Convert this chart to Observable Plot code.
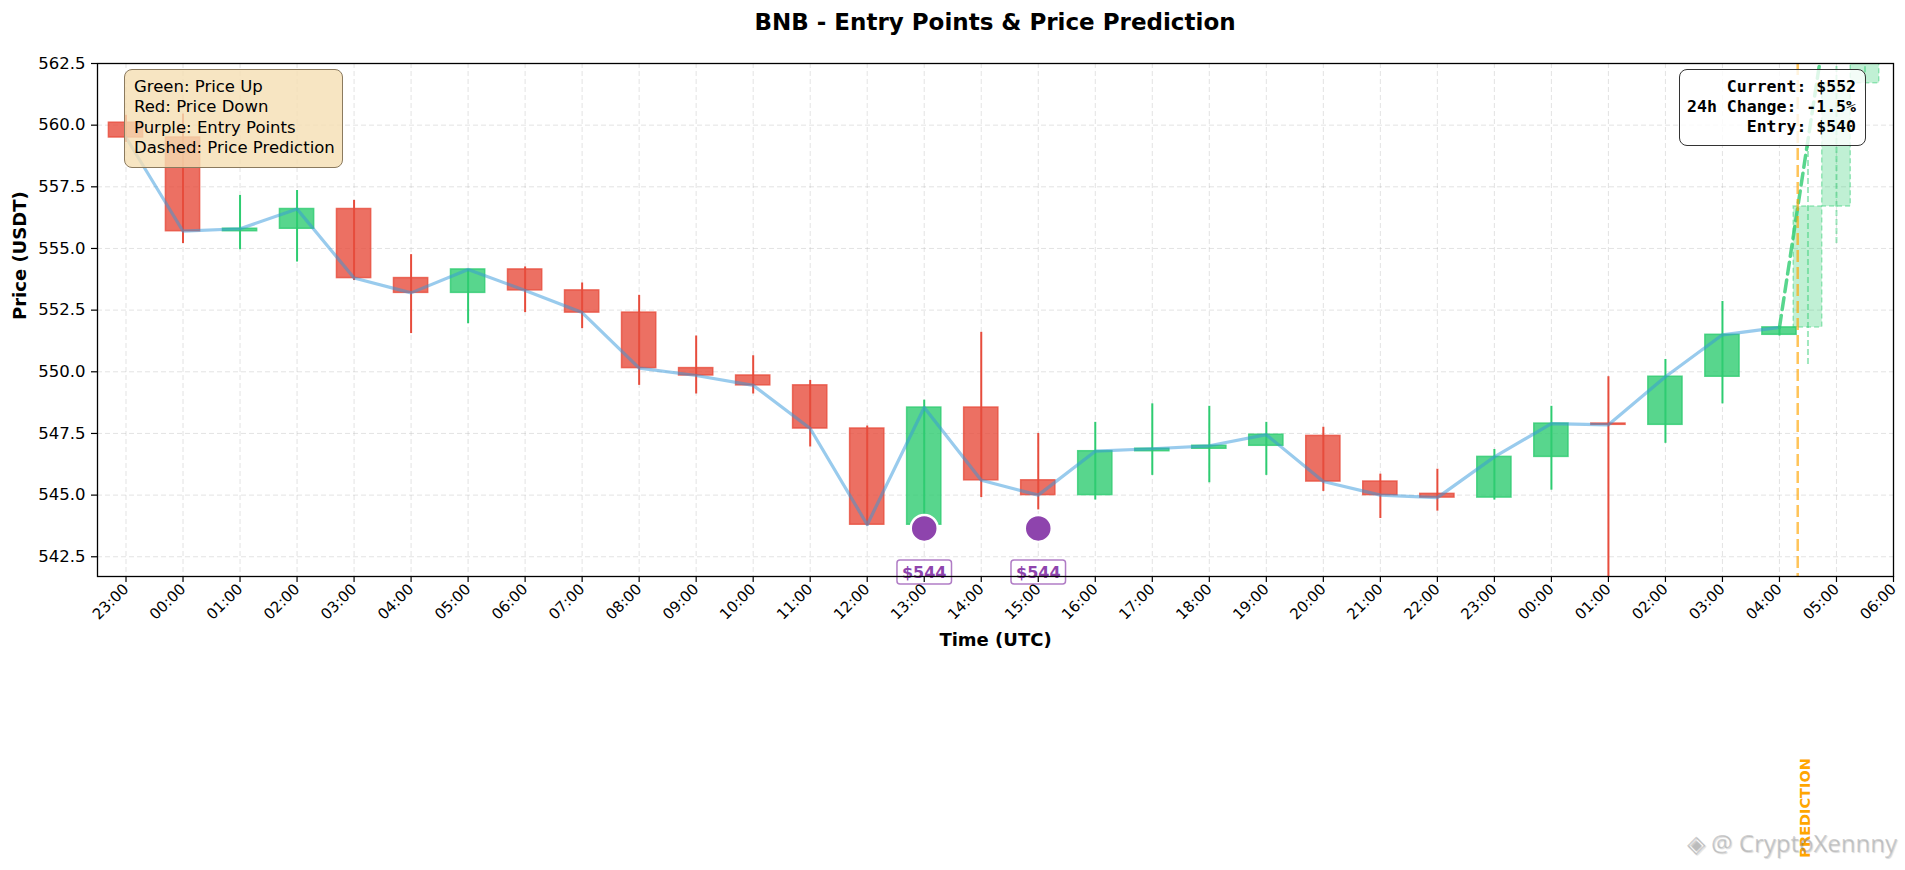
<!DOCTYPE html>
<html>
<head>
<meta charset="utf-8">
<script src="https://cdn.jsdelivr.net/npm/d3@7"></script>
<script src="https://cdn.jsdelivr.net/npm/@observablehq/plot@0.6"></script>
<style>
  body { margin: 0; background: #fff; }
  #wrap { position: relative; width: 1905px; height: 870px; overflow: hidden; font-family: "DejaVu Sans", sans-serif; background: #fff; }
  #title { position: absolute; left: 97px; width: 1796px; top: 8px; height: 30px; text-align: center; font-weight: bold; font-size: 23px; line-height: 28px; color: #000; }
  #chart { position: absolute; left: 0; top: 45px; }
  #legendBox { position: absolute; left: 124px; top: 69px; width: 219px; box-sizing: border-box; padding: 7px 0 9px 9px;
    background: rgba(245,222,179,0.8); border: 1.5px solid #8b7a5e; border-radius: 8px; font-size: 16.5px; line-height: 20.3px; color: #000; white-space: nowrap; }
  #statsBox { position: absolute; left: 1679px; top: 69px; width: 187px; box-sizing: border-box; padding: 7px 9px 7px 0;
    background: rgba(255,255,255,0.8); border: 1.5px solid #333; border-radius: 8px; font-family: "DejaVu Sans Mono", monospace; font-weight: bold;
    font-size: 16.5px; line-height: 20.2px; text-align: right; color: #000; white-space: pre; }
  #watermark { position: absolute; right: 8px; top: 826px; font-family: "Open Sans", sans-serif; font-size: 24px; color: rgba(150,150,150,0.45);
    text-shadow: 1px 1px 1px rgba(0,0,0,0.15); white-space: nowrap; }
</style>
</head>
<body>
<div id="wrap">
  <div id="title"></div>
  <div id="chart"></div>
  <div id="legendBox"></div>
  <div id="statsBox"></div>
  <div id="watermark"></div>
</div>
<script>
// ---------------- data ----------------
const chartTitle = "BNB - Entry Points & Price Prediction";
const xLabel = "Time (UTC)";
const yLabel = "Price (USDT)";

const candleTimes = ["23:00","00:00","01:00","02:00","03:00","04:00","05:00","06:00","07:00","08:00",
  "09:00","10:00","11:00","12:00","13:00","14:00","15:00","16:00","17:00","18:00",
  "19:00","20:00","21:00","22:00","23:00","00:00","01:00","02:00","03:00","04:00"];
const opens  = [560.1, 559.5, 555.7, 555.8, 556.6, 553.8, 553.2, 554.15, 553.3, 552.4,
  550.15, 549.85, 549.45, 547.7, 543.8, 548.55, 545.6, 545.0, 546.78, 546.88,
  547.0, 547.4, 545.55, 545.05, 544.9, 546.55, 547.9, 547.85, 549.8, 551.5];
const highs  = [560.4, 560.45, 557.15, 557.35, 556.95, 554.75, 554.15, 554.25, 553.6, 553.1,
  551.45, 550.65, 549.65, 547.8, 548.85, 551.6, 547.5, 547.95, 548.7, 548.6,
  547.95, 547.75, 545.85, 546.05, 546.85, 548.6, 549.8, 550.5, 552.85, 551.85];
const lows   = [559.3, 555.2, 554.95, 554.45, 553.7, 551.55, 551.95, 552.4, 551.75, 549.45,
  549.1, 549.1, 546.95, 543.75, 543.75, 544.9, 544.4, 544.8, 545.8, 545.5,
  545.8, 545.15, 544.05, 544.35, 544.8, 545.2, 541.7, 547.1, 548.7, 551.45];
const closes = [559.5, 555.7, 555.8, 556.6, 553.8, 553.2, 554.15, 553.3, 552.4, 550.15,
  549.85, 549.45, 547.7, 543.8, 548.55, 545.6, 545.0, 546.78, 546.88, 547.0,
  547.45, 545.55, 545.0, 544.9, 546.55, 547.9, 547.85, 549.8, 551.5, 551.8];

// predicted candles (hours after the last real candle)
const predOffsets = [0.5, 1.0, 1.5];
const predOpens   = [551.8, 556.7, 561.7];
const predCloses  = [556.7, 561.7, 566.0];
const predHighs   = [559.3, 563.5, 567.5];
const predLows    = [550.3, 555.2, 561.4];
// dashed prediction line
const predLineOffsets = [0, 0.5, 1.0];
const predLineValues  = [551.8, 559.4, 567.0];
const nowOffset = 0.32;            // current time, hours after last candle
const predictionText = "PREDICTION";
const predictionTextPrice = 530.3;

// entry points
const entryTimes  = ["13:00", "15:00"];
const entryPrices = [543.65, 543.65];
const entryTarget = 540;

const xTickLabels = ["23:00","00:00","01:00","02:00","03:00","04:00","05:00","06:00","07:00","08:00",
  "09:00","10:00","11:00","12:00","13:00","14:00","15:00","16:00","17:00","18:00",
  "19:00","20:00","21:00","22:00","23:00","00:00","01:00","02:00","03:00","04:00","05:00","06:00"];
const yTicks = [542.5, 545.0, 547.5, 550.0, 552.5, 555.0, 557.5, 560.0, 562.5];
const yDomain = [541.7, 562.5];

const legendLines = ["Green: Price Up", "Red: Price Down", "Purple: Entry Points", "Dashed: Price Prediction"];
const watermarkText = "@ CryptoXennny";

// ---------------- colours ----------------
const GREEN = "#2ecc71", RED = "#e74c3c", BLUE = "#3498db", PURPLE = "#8e44ad", ORANGE = "#FFA500";

// ---------------- derived tables ----------------
const candles = candleTimes.map((t, i) => ({
  t, x: i, open: opens[i], high: highs[i], low: lows[i], close: closes[i],
  c: closes[i] >= opens[i] ? GREEN : RED
}));
const lastX = candles.length - 1;
const preds = predOffsets.map((o, i) => ({
  x: lastX + o, open: predOpens[i], close: predCloses[i], high: predHighs[i], low: predLows[i]
}));
const predLine = predLineOffsets.map((o, i) => ({x: lastX + o, y: predLineValues[i]}));
const nowX = lastX + nowOffset;
const entries = entryTimes.map((t, i) => ({x: candleTimes.indexOf(t), y: entryPrices[i]}));
const currentPrice = closes[lastX];
const change = (currentPrice - opens[0]) / opens[0] * 100;

// ---------------- text boxes ----------------
document.getElementById("title").textContent = chartTitle;
document.getElementById("legendBox").innerHTML = legendLines.map(s => `<div>${s}</div>`).join("");
document.getElementById("statsBox").textContent =
  `Current: $${Math.round(currentPrice)}\n24h Change: ${change.toFixed(1)}%\nEntry: $${entryTarget}`;
document.getElementById("watermark").textContent = "◈ " + watermarkText;

// ---------------- plot ----------------
const HALF = 0.3, PHALF = 0.25;
const plot = Plot.plot({
  width: 1905,
  height: 825,
  marginLeft: 97,
  marginRight: 12,
  marginTop: 18,
  marginBottom: 294,
  style: {fontFamily: "DejaVu Sans", fontSize: "16px", background: "transparent", overflow: "visible"},
  x: {type: "linear", domain: [-0.5, xTickLabels.length - 1]},
  y: {domain: yDomain},
  color: {type: "identity"},
  marks: [
    Plot.gridX(d3.range(xTickLabels.length), {stroke: "#b0b0b0", strokeOpacity: 0.35, strokeDasharray: "5,3", strokeWidth: 1}),
    Plot.gridY(yTicks, {stroke: "#b0b0b0", strokeOpacity: 0.35, strokeDasharray: "5,3", strokeWidth: 1}),
    // candle bodies
    Plot.rect(candles, {x1: d => d.x - HALF, x2: d => d.x + HALF, y1: "open", y2: "close",
      fill: "c", fillOpacity: 0.8, stroke: "c", strokeWidth: 1.5, strokeOpacity: 0.8}),
    // wicks
    Plot.ruleX(candles, {x: "x", y1: "low", y2: "high", stroke: "c", strokeWidth: 2}),
    // price line
    Plot.line(candles, {x: "x", y: "close", stroke: BLUE, strokeOpacity: 0.5, strokeWidth: 3.2}),
    // predicted candles
    Plot.rect(preds, {x1: d => d.x - PHALF, x2: d => d.x + PHALF, y1: "open", y2: "close",
      fill: GREEN, fillOpacity: 0.3, stroke: GREEN, strokeOpacity: 0.45, strokeWidth: 1.5, strokeDasharray: "5,3", clip: true}),
    Plot.ruleX(preds, {x: "x", y1: "low", y2: "high", stroke: GREEN, strokeOpacity: 0.45, strokeWidth: 2, strokeDasharray: "6,3", clip: true}),
    // prediction line
    Plot.line(predLine, {x: "x", y: "y", stroke: GREEN, strokeOpacity: 0.8, strokeWidth: 3.5, strokeDasharray: "12,6", clip: true}),
    // now line
    Plot.ruleX([nowX], {stroke: ORANGE, strokeOpacity: 0.65, strokeWidth: 2.5, strokeDasharray: "12,5"}),
    // entry points
    Plot.dot(entries, {x: "x", y: "y", r: 13.5, fill: PURPLE, stroke: "white", strokeWidth: 2.5}),
    Plot.text(entries, {x: "x", y: "y", text: d => `$${Math.round(d.y)}`, dy: 44, fill: PURPLE, fontWeight: "bold",
      fontSize: 16, className: "entry-label"}),
    // prediction label
    Plot.text([nowX], {x: d => d, y: () => predictionTextPrice, text: () => predictionText, rotate: -90, textAnchor: "start",
      dx: 7.3, fill: ORANGE, fontWeight: "bold", fontSize: 14.5}),
    // frame & axes
    Plot.frame({stroke: "#000", strokeWidth: 1.3}),
    Plot.axisY(yTicks, {tickSize: 6, tickPadding: 6, tickFormat: d3.format(".1f"), fontSize: 16.5, label: null, strokeWidth: 1.2}),
    Plot.axisX(d3.range(xTickLabels.length), {tickSize: 6, tickPadding: 4, tickRotate: -45, tickFormat: i => xTickLabels[i],
      fontSize: 15, label: null, strokeWidth: 1.2}),
    Plot.text([xLabel], {text: d => d, frameAnchor: "bottom", dy: 69, fontWeight: "bold", fontSize: 18}),
    Plot.text([yLabel], {text: d => d, frameAnchor: "left", dx: -77, rotate: -90, fontWeight: "bold", fontSize: 18})
  ]
});
document.getElementById("chart").appendChild(plot);

// boxes behind the entry labels
plot.querySelectorAll("g.entry-label text").forEach(t => {
  const b = t.getBBox();
  const r = document.createElementNS("http://www.w3.org/2000/svg", "rect");
  r.setAttribute("x", b.x - 5);
  r.setAttribute("y", b.y - 2.5);
  r.setAttribute("width", b.width + 10);
  r.setAttribute("height", b.height + 5);
  r.setAttribute("rx", 3);
  r.setAttribute("fill", "white");
  r.setAttribute("fill-opacity", 0.85);
  r.setAttribute("stroke", PURPLE);
  r.setAttribute("stroke-opacity", 0.7);
  r.setAttribute("stroke-width", 1.5);
  if (t.getAttribute("transform")) r.setAttribute("transform", t.getAttribute("transform"));
  t.parentNode.insertBefore(r, t);
});
</script>
</body>
</html>
